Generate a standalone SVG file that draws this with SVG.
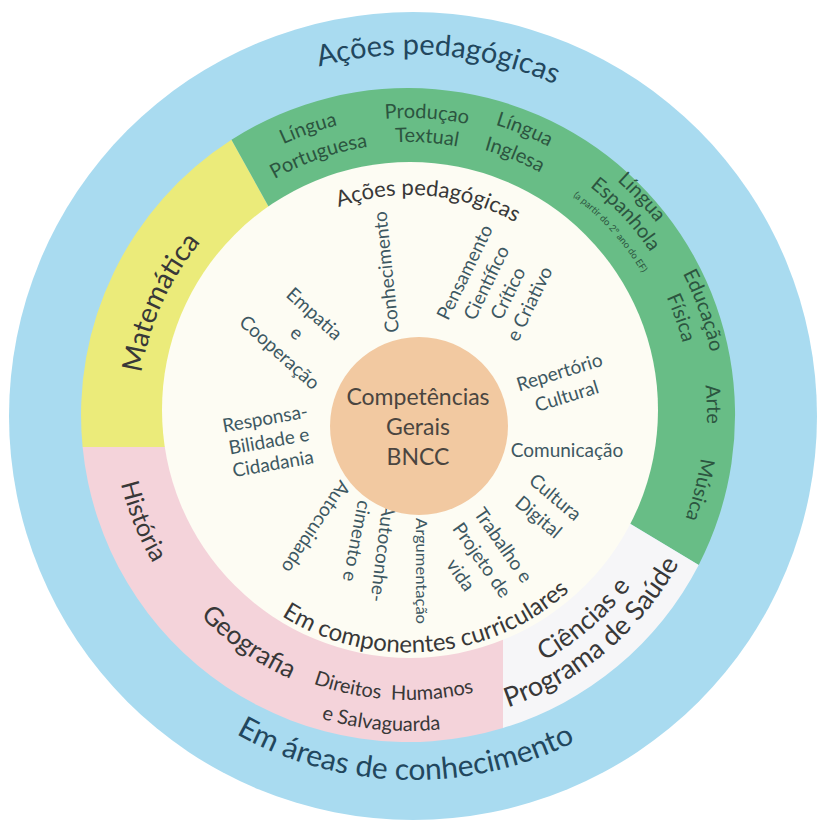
<svg xmlns="http://www.w3.org/2000/svg" width="825" height="832" viewBox="0 0 825 832">
<style>
  text { font-family: Lato, "Open Sans", "DejaVu Sans", sans-serif; }
  .outer { font-size: 29px; fill: #22475e; }
  .ring { font-size: 20px; fill: #2c5540; }
  .area { fill: #383838; }
  .inner { font-size: 22px; fill: #383838; }
  .rad { font-size: 19px; fill: #3d5862; text-anchor: middle; }
  .ctr { font-size: 23px; fill: #4a4540; text-anchor: middle; }
</style>
<defs>
  <path id="pO1" d="M114.6,212.2 A359,359 0 0 1 735.7,258.6"/>
  <path id="pO2" d="M93.7,590.8 A364,364 0 0 0 724.0,605.1"/>
  <path id="pMat" d="M188.5,572.2 A270,270 0 0 1 381.6,146.3"/>
  <path id="pLP1" d="M152.0,262.4 A298,298 0 0 1 513.8,136.4"/>
  <path id="pLP2" d="M175.7,275.4 A271,271 0 0 1 505.1,162.0"/>
  <path id="pPT1" d="M231.8,175.9 A297,297 0 0 1 612.8,199.9"/>
  <path id="pPT2" d="M247.1,194.4 A273,273 0 0 1 597.3,218.3"/>
  <path id="pLI1" d="M315.4,126.5 A303,303 0 0 1 676.0,273.7"/>
  <path id="pLI2" d="M324.1,152.1 A276,276 0 0 1 652.4,286.7"/>
  <path id="pLE1" d="M446.3,103.4 A314,314 0 0 1 721.6,398.6"/>
  <path id="pLE2" d="M445.1,125.4 A292,292 0 0 1 699.7,401.2"/>
  <path id="pLE3" d="M445.6,143.6 A274,274 0 0 1 681.8,405.0"/>
  <path id="pEF1" d="M564.8,148.8 A309,309 0 0 1 697.4,523.2"/>
  <path id="pEF2" d="M551.7,170.1 A284,284 0 0 1 674.2,514.0"/>
  <path id="pArte" d="M630.2,214.9 A299,299 0 0 1 643.6,599.1"/>
  <path id="pMus" d="M674.9,287.1 A296,296 0 0 1 580.3,655.7"/>
  <path id="pHis" d="M127.7,322.9 A295,295 0 0 0 268.6,675.0"/>
  <path id="pGeo" d="M128.9,489.8 A289,289 0 0 0 433.2,702.9"/>
  <path id="pDH1" d="M213.6,623.4 A285,285 0 0 0 579.5,642.6"/>
  <path id="pDH2" d="M184.6,638.4 A316,316 0 0 0 589.3,673.9"/>
  <path id="pCi1" d="M411.4,696.0 A281,281 0 0 0 685.3,460.4"/>
  <path id="pCi2" d="M408.5,724.0 A309,309 0 0 0 712.4,468.1"/>
  <path id="pI1" d="M233.9,286.7 A215,215 0 0 1 604.9,319.1"/>
  <path id="pI2" d="M208.4,544.2 A240,240 0 0 0 629.4,507.6"/>
</defs>

<rect width="825" height="832" fill="#ffffff"/>

<g id="outer-ring">
  <circle cx="413" cy="416" r="404" fill="#a9dbf0"/>
  <text class="outer"><textPath href="#pO1" startOffset="50%" text-anchor="middle">Ações pedagógicas</textPath></text>
  <text class="outer" style="font-size:30px"><textPath href="#pO2" startOffset="50%" text-anchor="middle">Em áreas de conhecimento</textPath></text>
</g>

<g id="middle-ring">
  <path id="sector-matematica" d="M82.6,447 A327,327 0 0 1 231.5,139.8 L290,245 L400,420 L200,447 Z" fill="#ebeb7a"/>
  <path id="sector-linguagens" d="M231.5,139.8 A327,327 0 0 1 698.7,564.9 L589,499 L400,420 L290,245 Z" fill="#68bd86"/>
  <path id="sector-ciencias" d="M698.7,564.9 A327,327 0 0 1 503,728 L503,560 L400,420 L589,499 Z" fill="#f6f6f8"/>
  <path id="sector-humanas" d="M503,728 A327,327 0 0 1 82.6,447 L200,447 L400,420 L503,560 Z" fill="#f4d3da"/>
</g>

<g id="inner-circle">
  <circle cx="410" cy="410" r="248" fill="#fdfcf3"/>
</g>

<g id="matematica">
  <text class="area" style="font-size:28px"><textPath href="#pMat" startOffset="50%" text-anchor="middle">Matemática</textPath></text>
</g>
<g id="lingua-portuguesa">
  <text class="ring"><textPath href="#pLP1" startOffset="50%" text-anchor="middle">Língua</textPath></text>
  <text class="ring"><textPath href="#pLP2" startOffset="50%" text-anchor="middle">Portuguesa</textPath></text>
</g>
<g id="producao-textual">
  <text class="ring"><textPath href="#pPT1" startOffset="50%" text-anchor="middle">Produçao</textPath></text>
  <text class="ring"><textPath href="#pPT2" startOffset="50%" text-anchor="middle">Textual</textPath></text>
</g>
<g id="lingua-inglesa">
  <text class="ring"><textPath href="#pLI1" startOffset="50%" text-anchor="middle">Língua</textPath></text>
  <text class="ring"><textPath href="#pLI2" startOffset="50%" text-anchor="middle">Inglesa</textPath></text>
</g>
<g id="lingua-espanhola">
  <text class="ring"><textPath href="#pLE1" startOffset="50%" text-anchor="middle">Língua</textPath></text>
  <text class="ring"><textPath href="#pLE2" startOffset="50%" text-anchor="middle">Espanhola</textPath></text>
  <text class="ring" style="font-size:9.5px"><textPath href="#pLE3" startOffset="50%" text-anchor="middle">(a partir do 2º ano do EF)</textPath></text>
</g>
<g id="educacao-fisica">
  <text class="ring"><textPath href="#pEF1" startOffset="50%" text-anchor="middle">Educação</textPath></text>
  <text class="ring"><textPath href="#pEF2" startOffset="50%" text-anchor="middle">Física</textPath></text>
</g>
<g id="arte">
  <text class="ring"><textPath href="#pArte" startOffset="50%" text-anchor="middle">Arte</textPath></text>
</g>
<g id="musica">
  <text class="ring"><textPath href="#pMus" startOffset="50%" text-anchor="middle">Música</textPath></text>
</g>
<g id="historia">
  <text class="area" style="font-size:25px"><textPath href="#pHis" startOffset="50%" text-anchor="middle">História</textPath></text>
</g>
<g id="geografia">
  <text class="area" style="font-size:26px"><textPath href="#pGeo" startOffset="50%" text-anchor="middle">Geografia</textPath></text>
</g>
<g id="direitos-humanos">
  <text class="area" style="font-size:20px;word-spacing:5px"><textPath href="#pDH1" startOffset="50%" text-anchor="middle">Direitos Humanos</textPath></text>
  <text class="area" style="font-size:20px"><textPath href="#pDH2" startOffset="50%" text-anchor="middle">e Salvaguarda</textPath></text>
</g>
<g id="ciencias">
  <text class="area" style="font-size:26px"><textPath href="#pCi1" startOffset="50%" text-anchor="middle">Ciências e</textPath></text>
  <text class="area" style="font-size:27px"><textPath href="#pCi2" startOffset="50%" text-anchor="middle">Programa de Saúde</textPath></text>
</g>

<g id="inner-labels">
  <text class="inner"><textPath href="#pI1" startOffset="50%" text-anchor="middle">Ações pedagógicas</textPath></text>
  <text class="inner" style="font-size:24px"><textPath href="#pI2" startOffset="50%" text-anchor="middle">Em componentes curriculares</textPath></text>
</g>

<g id="conhecimento">
  <text class="rad" transform="translate(386,272) rotate(-96)" dy=".35em">Conhecimento</text>
</g>
<g id="pensamento" transform="translate(497,288) rotate(-64)">
  <text class="rad" y="-36" dy=".35em">Pensamento</text>
  <text class="rad" y="-12" dy=".35em">Científico</text>
  <text class="rad" y="12" dy=".35em">Crítico</text>
  <text class="rad" y="36" dy=".35em">e Criativo</text>
</g>
<g id="empatia" transform="translate(297,333) rotate(42)">
  <text class="rad" y="-26" dy=".35em">Empatia</text>
  <text class="rad" y="0" dy=".35em">e</text>
  <text class="rad" y="26" dy=".35em">Cooperação</text>
</g>
<g id="responsabilidade" transform="translate(269,441) rotate(-10)">
  <text class="rad" y="-23" dy=".35em">Responsa-</text>
  <text class="rad" y="0" dy=".35em">Bilidade e</text>
  <text class="rad" y="23" dy=".35em">Cidadania</text>
</g>
<g id="repertorio" transform="translate(563,384) rotate(-17)">
  <text class="rad" y="-12.5" dy=".35em">Repertório</text>
  <text class="rad" y="12.5" dy=".35em">Cultural</text>
</g>
<g id="comunicacao">
  <text class="rad" transform="translate(567,450)" dy=".35em">Comunicação</text>
</g>
<g id="cultura-digital" transform="translate(547,507) rotate(40)">
  <text class="rad" y="-13" dy=".35em">Cultura</text>
  <text class="rad" y="13" dy=".35em">Digital</text>
</g>
<g id="trabalho" transform="translate(482,560) rotate(55)">
  <text class="rad" y="-26" dy=".35em">Trabalho e</text>
  <text class="rad" y="0" dy=".35em">Projeto de</text>
  <text class="rad" y="26" dy=".35em">vida</text>
</g>
<g id="argumentacao">
  <text class="rad" style="font-size:15px" transform="translate(421,571) rotate(90)" dy=".35em" textLength="106" lengthAdjust="spacingAndGlyphs">Argumentação</text>
</g>
<g id="autoconhecimento">
  <text class="rad" transform="translate(383,553) rotate(97)" dy=".35em">Autoconhe-</text>
  <text class="rad" transform="translate(357,541) rotate(101)" dy=".35em">cimento e</text>
  <text class="rad" transform="translate(316,527) rotate(124)" dy=".35em">Autocuidado</text>
</g>

<g id="competencias">
  <circle cx="419" cy="426" r="89" fill="#f2c9a1"/>
  <text class="ctr" x="418" y="405">Competências</text>
  <text class="ctr" x="418" y="435">Gerais</text>
  <text class="ctr" x="418" y="465">BNCC</text>
</g>

<g id="connectors"></g>
</svg>
